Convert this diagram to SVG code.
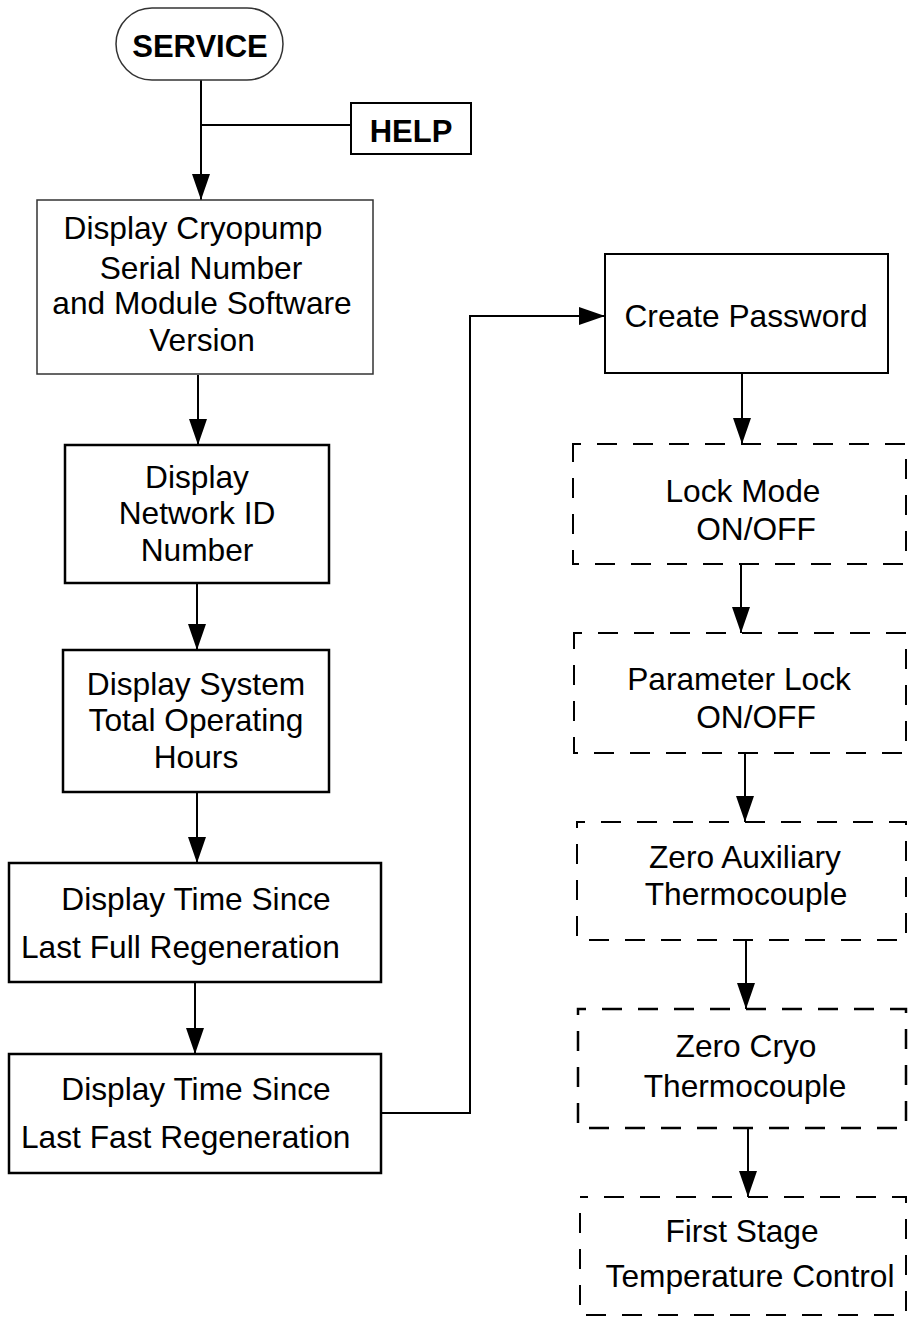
<svg xmlns="http://www.w3.org/2000/svg" width="909" height="1318" viewBox="0 0 909 1318">
<defs>
<style>
text{font-family:"Liberation Sans",Arial,sans-serif;font-size:31.7px;fill:#000}
.b{font-weight:bold;font-size:31px}
.m{text-anchor:middle}
.box{fill:#fff;stroke:#000;stroke-width:2.5}
.thin{fill:#fff;stroke:#333;stroke-width:1.5}
.dash{fill:none;stroke:#000;stroke-width:2;stroke-dasharray:20 16;stroke-dashoffset:12}
.con{fill:none;stroke:#000;stroke-width:2}
</style>
<marker id="ah" markerUnits="userSpaceOnUse" markerWidth="26" markerHeight="18" refX="26" refY="9" orient="auto">
<path d="M0,0 L26,9 L0,18 z" fill="#000"/>
</marker>
</defs>
<g id="connectors">
<path class="con" d="M201,80 V200" marker-end="url(#ah)"/>
<path class="con" d="M201,125 H351"/>
<path class="con" d="M198,375 V445" marker-end="url(#ah)"/>
<path class="con" d="M197,583 V650" marker-end="url(#ah)"/>
<path class="con" d="M197,792 V863" marker-end="url(#ah)"/>
<path class="con" d="M195,982 V1054" marker-end="url(#ah)"/>
<path class="con" d="M381,1113 H470 V316 H605" marker-end="url(#ah)"/>
<path class="con" d="M742,373 V444" marker-end="url(#ah)"/>
<path class="con" d="M741,564 V633" marker-end="url(#ah)"/>
<path class="con" d="M745,753 V822" marker-end="url(#ah)"/>
<path class="con" d="M746,940 V1009" marker-end="url(#ah)"/>
<path class="con" d="M748,1128 V1197" marker-end="url(#ah)"/>
</g>
<g id="service">
<rect x="116" y="8" width="167" height="72" rx="36" ry="36" class="thin"/>
<text class="b m" x="200" y="57">SERVICE</text>
</g>
<g id="help">
<rect x="351" y="103" width="120" height="51" class="box" style="stroke-width:2"/>
<text class="b m" x="411" y="142">HELP</text>
</g>
<g id="serial">
<rect x="37" y="200" width="336" height="174" class="thin"/>
<text class="m" x="193" y="239">Display Cryopump</text>
<text class="m" x="201" y="279">Serial Number</text>
<text class="m" x="202" y="314">and Module Software</text>
<text class="m" x="202" y="351">Version</text>
</g>
<g id="network">
<rect x="65" y="445" width="264" height="138" class="box"/>
<text class="m" x="197" y="488">Display</text>
<text class="m" x="197" y="524">Network ID</text>
<text class="m" x="197" y="561">Number</text>
</g>
<g id="hours">
<rect x="63" y="650" width="266" height="142" class="box"/>
<text class="m" x="196" y="695">Display System</text>
<text class="m" x="196" y="731">Total Operating</text>
<text class="m" x="196" y="768">Hours</text>
</g>
<g id="fullregen">
<rect x="9" y="863" width="372" height="119" class="box"/>
<text class="m" x="196" y="910">Display Time Since</text>
<text x="21" y="958">Last Full Regeneration</text>
</g>
<g id="fastregen">
<rect x="9" y="1054" width="372" height="119" class="box"/>
<text class="m" x="196" y="1100">Display Time Since</text>
<text x="21" y="1148">Last Fast Regeneration</text>
</g>
<g id="password">
<rect x="605" y="254" width="283" height="119" class="box" style="stroke-width:2"/>
<text class="m" x="746" y="327">Create Password</text>
</g>
<g id="lockmode">
<rect x="573" y="444" width="333" height="120" class="dash"/>
<text class="m" x="743" y="502">Lock Mode</text>
<text class="m" x="756" y="540">ON/OFF</text>
</g>
<g id="paramlock">
<rect x="574" y="633" width="332" height="120" class="dash"/>
<text class="m" x="739" y="690">Parameter Lock</text>
<text class="m" x="756" y="728">ON/OFF</text>
</g>
<g id="zeroaux">
<rect x="577" y="822" width="329" height="118" class="dash"/>
<text class="m" x="745" y="868">Zero Auxiliary</text>
<text class="m" x="746" y="905">Thermocouple</text>
</g>
<g id="zerocryo">
<rect x="578" y="1009" width="328" height="119" class="dash" style="stroke-width:2.5"/>
<text class="m" x="746" y="1057">Zero Cryo</text>
<text class="m" x="745" y="1097">Thermocouple</text>
</g>
<g id="firststage">
<rect x="580" y="1197" width="326" height="118" class="dash"/>
<text class="m" x="742" y="1242">First Stage</text>
<text class="m" x="750" y="1287">Temperature Control</text>
</g>
</svg>
